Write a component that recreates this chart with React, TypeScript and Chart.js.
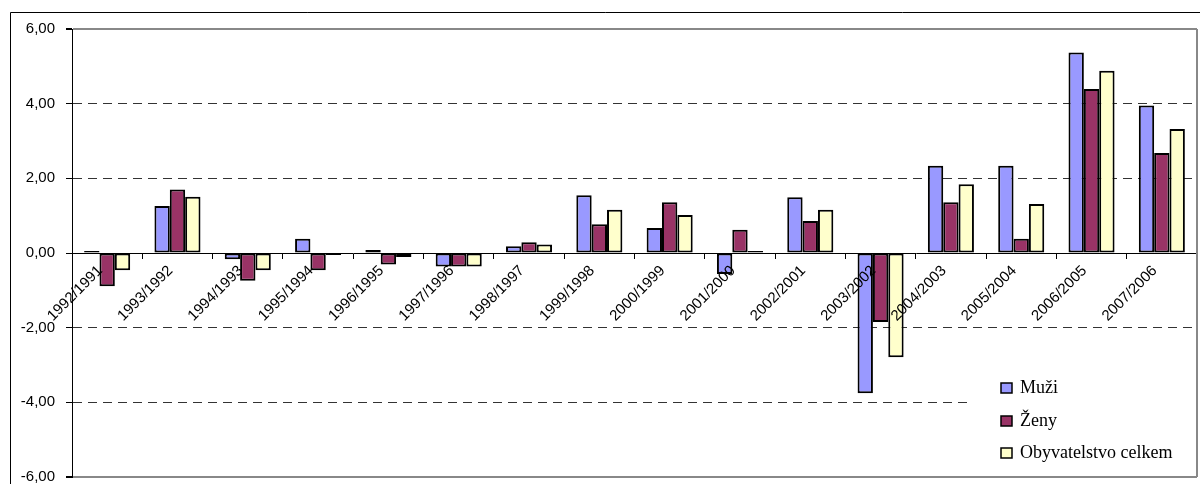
import React, { useEffect, useRef } from 'react';
import { Chart, registerables } from 'chart.js';

Chart.register(...registerables);

const categories = [
  '1992/1991', '1993/1992', '1994/1993', '1995/1994', '1996/1995', '1997/1996',
  '1998/1997', '1999/1998', '2000/1999', '2001/2000', '2002/2001', '2003/2002',
  '2004/2003', '2005/2004', '2006/2005', '2007/2006',
];
const seriesNames = ['Muži', 'Ženy', 'Obyvatelstvo celkem'];
const muzi = [0.03, 1.26, -0.17, 0.38, 0.08, -0.36, 0.18, 1.55, 0.67, -0.56, 1.49, -3.76, 2.34, 2.34, 5.37, 3.95];
const zeny = [-0.89, 1.70, -0.74, -0.46, -0.31, -0.36, 0.29, 0.77, 1.36, 0.62, 0.86, -1.85, 1.36, 0.38, 4.39, 2.68];
const celkem = [-0.46, 1.51, -0.46, -0.04, -0.11, -0.36, 0.23, 1.16, 1.02, 0.04, 1.16, -2.79, 1.84, 1.31, 4.88, 3.32];
const yMin = -6;
const yMax = 6;
const yStep = 2;

const colors = ['#9999FF', '#993366', '#FFFFCC'];

const framePlugin = {
  id: 'framePlugin',
  beforeDraw(chart: any) {
    const { ctx } = chart;
    ctx.save();
    ctx.fillStyle = '#fff';
    ctx.fillRect(0, 0, chart.width, chart.height);
    ctx.strokeStyle = '#000';
    ctx.lineWidth = 1;
    ctx.beginPath();
    ctx.moveTo(10.5, chart.height);
    ctx.lineTo(10.5, 12.5);
    ctx.lineTo(chart.width, 12.5);
    ctx.stroke();
    ctx.restore();
  },
  afterDraw(chart: any) {
    const { ctx, chartArea } = chart;
    ctx.save();
    // right plot border
    ctx.strokeStyle = '#888';
    ctx.lineWidth = 2;
    ctx.beginPath();
    ctx.moveTo(chartArea.right, chartArea.top);
    ctx.lineTo(chartArea.right, chartArea.bottom);
    ctx.stroke();
    // legend box
    const lx = 968;
    const ly = 362;
    ctx.fillStyle = '#fff';
    ctx.fillRect(lx, ly, chartArea.right - 1 - lx, chartArea.bottom - 1 - ly);
    const rows = [388, 421, 453];
    ctx.font = '18px "Liberation Serif"';
    ctx.textBaseline = 'middle';
    ctx.textAlign = 'left';
    chart.data.datasets.forEach((ds: any, i: number) => {
      const y = rows[i];
      ctx.fillStyle = ds.backgroundColor;
      ctx.fillRect(1001, y - 5, 11, 10);
      ctx.strokeStyle = '#000';
      ctx.lineWidth = 1.5;
      ctx.strokeRect(1001, y - 5, 11, 10);
      ctx.fillStyle = '#000';
      ctx.fillText(ds.label, 1020, y);
    });
    ctx.restore();
  },
};

const fmt = (v: number) => v.toFixed(2).replace('.', ',');

export default function App() {
  const ref = useRef<HTMLCanvasElement>(null);
  useEffect(() => {
    if (!ref.current) return;
    const font = { family: '"Liberation Sans", Arial, sans-serif', size: 15 };
    const chart = new Chart(ref.current, {
      type: 'bar',
      data: {
        labels: categories,
        datasets: [muzi, zeny, celkem].map((d, i) => ({
          label: seriesNames[i],
          data: d,
          backgroundColor: colors[i],
          borderColor: '#000',
          borderWidth: 2,
          borderSkipped: false,
          minBarLength: 2,
          categoryPercentage: 0.655,
          barPercentage: 1.0,
        })),
      },
      options: {
        responsive: false,
        maintainAspectRatio: false,
        animation: false,
        layout: { padding: { left: 0, top: 29, right: 3, bottom: 0 } },
        plugins: {
          legend: { display: false },
          tooltip: { enabled: false },
          title: { display: false },
        },
        scales: {
          x: {
            type: 'category',
            position: { y: 0 } as any,
            offset: true,
            grid: {
              display: true,
              drawOnChartArea: false,
              drawTicks: true,
              tickLength: 5,
              tickColor: '#000',
              offset: true,
              z: 1,
            },
            border: { display: true, color: '#000', width: 1, z: 1 },
            ticks: {
              autoSkip: false,
              maxRotation: 45,
              minRotation: 45,
              padding: 4,
              labelOffset: -7,
              color: '#000',
              font,
              z: 1,
            },
          },
          y: {
            min: yMin,
            max: yMax,
            afterFit: (s: any) => { s.width = 72; },
            ticks: {
              stepSize: yStep,
              padding: 11,
              color: '#000',
              font,
              callback: (v: any) => fmt(Number(v)),
            },
            grid: {
              drawTicks: true,
              tickLength: 6,
              tickColor: '#000',
              color: (c: any) => {
                const v = c.tick ? c.tick.value : null;
                if (v === yMin || v === yMax) return '#888';
                if (v === 0) return 'rgba(0,0,0,0)';
                return '#333';
              },
              lineWidth: (c: any) => {
                const v = c.tick ? c.tick.value : null;
                return v === yMin || v === yMax ? 2 : 1;
              },
            },
            border: {
              display: true,
              color: '#000',
              width: 1,
              dash: (c: any) => {
                const v = c.tick ? c.tick.value : null;
                if (v === null || v === undefined || v === yMin || v === yMax) return [];
                return [9, 6];
              },
            } as any,
          },
        },
      } as any,
      plugins: [framePlugin],
    });
    return () => chart.destroy();
  }, []);
  return (
    <div style={{ position: 'fixed', left: 0, top: 0, width: 1200, height: 484, overflow: 'hidden', background: '#fff' }}>
      <canvas ref={ref} width={1200} height={497} style={{ display: 'block' }} />
    </div>
  );
}
